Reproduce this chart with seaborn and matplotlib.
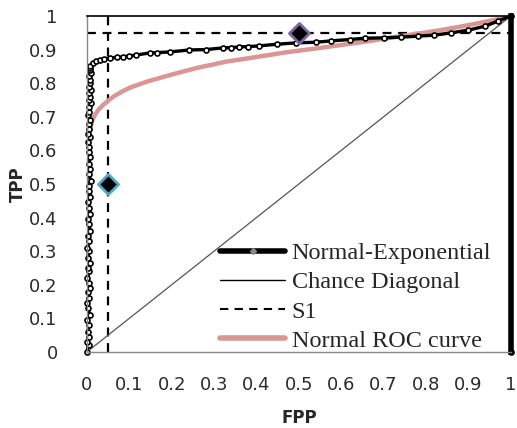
import numpy as np
import pandas as pd
import matplotlib
matplotlib.use("Agg")
import matplotlib.pyplot as plt
import seaborn as sns
from matplotlib.lines import Line2D

sns.set_style("white")
plt.rcParams['font.family'] = ['DejaVu Sans']

ne_fpp = [0.000, 0.004, 0.001, 0.006, 0.002, 0.005, 0.001, 0.007, 0.003, 0.000,
          0.006, 0.002, 0.008, 0.004, 0.001, 0.006, 0.003, 0.007, 0.002, 0.005,
          0.001, 0.006, 0.003, 0.008, 0.004, 0.002, 0.007, 0.005, 0.003, 0.008,
          0.006, 0.004, 0.009, 0.005, 0.007, 0.004, 0.008, 0.006, 0.005, 0.003,
          0.007, 0.002, 0.006, 0.004, 0.008, 0.003, 0.006, 0.005, 0.009, 0.004,
          0.007, 0.006, 0.009, 0.005, 0.008, 0.007, 0.006, 0.009, 0.008, 0.007,
          0.008, 0.014, 0.022, 0.030, 0.040, 0.054, 0.070, 0.085, 0.100, 0.117,
          0.148, 0.165, 0.195, 0.242, 0.280, 0.320, 0.340, 0.360, 0.380, 0.406,
          0.448, 0.493, 0.540, 0.577, 0.620, 0.657, 0.700, 0.740, 0.780, 0.820,
          0.860, 0.900, 0.940, 0.970, 1.000, 1.000]
ne_tpp = [0.000, 0.020, 0.030, 0.045, 0.060, 0.080, 0.095, 0.110, 0.130, 0.145,
          0.160, 0.180, 0.190, 0.205, 0.220, 0.240, 0.250, 0.265, 0.280, 0.300,
          0.310, 0.330, 0.345, 0.360, 0.380, 0.395, 0.410, 0.430, 0.445, 0.460,
          0.480, 0.495, 0.510, 0.530, 0.545, 0.560, 0.580, 0.595, 0.610, 0.625,
          0.640, 0.650, 0.665, 0.680, 0.690, 0.705, 0.715, 0.730, 0.740, 0.750,
          0.760, 0.770, 0.780, 0.790, 0.800, 0.810, 0.820, 0.830, 0.840, 0.845,
          0.852, 0.860, 0.865, 0.869, 0.872, 0.875, 0.877, 0.878, 0.881, 0.884,
          0.890, 0.891, 0.893, 0.899, 0.900, 0.905, 0.906, 0.908, 0.909, 0.911,
          0.916, 0.920, 0.922, 0.926, 0.930, 0.934, 0.935, 0.937, 0.940, 0.943,
          0.950, 0.958, 0.970, 0.985, 1.000, 0.000]

# Binormal ROC curve
roc_fpp = [0.002, 0.002, 0.003, 0.004, 0.006, 0.009, 0.013, 0.020, 0.028, 0.038,
           0.050, 0.065, 0.080, 0.100, 0.140, 0.195, 0.258, 0.328, 0.400, 0.470,
           0.550, 0.664, 0.740, 0.820, 0.880, 0.940, 1.000]
roc_tpp = [0.000, 0.300, 0.500, 0.590, 0.640, 0.670, 0.690, 0.708, 0.722, 0.735,
           0.748, 0.762, 0.773, 0.786, 0.804, 0.824, 0.845, 0.864, 0.878, 0.892,
           0.905, 0.925, 0.940, 0.955, 0.968, 0.983, 0.998]

chance = [0.0, 1.0]
s1_fpp = 0.05
s1_tpp = 0.95

# the two highlighted operating points
pt_fpp = [0.05, 0.5]
pt_tpp = [0.5, 0.95]
pt_edge = ['#4BACC6', '#8064A2']

PINK = '#D99694'

fig = plt.figure(figsize=(5.17, 4.28), dpi=100)
ax = fig.add_axes([0.168, 0.1776, 0.820, 0.785])

# S1 criterion lines
ax.axvline(s1_fpp, color='black', linestyle=(0, (4, 3)), linewidth=1.6)
ax.axhline(s1_tpp, color='black', linestyle=(0, (4, 3)), linewidth=1.6)

# chance diagonal
sns.lineplot(x=chance, y=chance, ax=ax, color='#555555', linewidth=0.9)

# normal ROC curve
sns.lineplot(x=roc_fpp, y=roc_tpp, ax=ax, sort=False, estimator=None,
             color=PINK, linewidth=3.2)

# normal-exponential points
sns.lineplot(x=ne_fpp, y=ne_tpp, ax=ax, sort=False, estimator=None,
             color='black', linewidth=2.4, marker='o', markersize=3.6,
             markerfacecolor='white', markeredgecolor='black', markeredgewidth=1.2,
             clip_on=False)

# diamonds
for fx, ty, ec in zip(pt_fpp, pt_tpp, pt_edge):
    ax.scatter([fx], [ty], marker='D', s=105, color='black', edgecolors=ec,
               linewidths=2, zorder=5, clip_on=False)

ax.set_xlim(0, 1)
ax.set_ylim(0, 1)
ax.set_xticks(np.arange(0, 1.01, 0.1))
ax.set_yticks(np.arange(0, 1.01, 0.1))
ax.set_xticklabels(['0'] + [f'{v:.1f}' for v in np.arange(0.1, 0.95, 0.1)] + ['1'])
ax.set_yticklabels(['0'] + [f'{v:.1f}' for v in np.arange(0.1, 0.95, 0.1)] + ['1'])
ax.tick_params(length=0, labelsize=13, labelcolor='#2b2b2b')
ax.tick_params(axis='x', pad=17)
ax.tick_params(axis='y', pad=21)

ax.set_xlabel('FPP', fontsize=12, fontweight='bold', labelpad=11)
ax.set_ylabel('TPP', fontsize=12, fontweight='bold', labelpad=2)

for side in ['left', 'bottom']:
    ax.spines[side].set_color('#888888')
    ax.spines[side].set_linewidth(1.0)
ax.spines['top'].set_color('black')
ax.spines['top'].set_linewidth(1.2)
ax.spines['right'].set_color('black')
ax.spines['right'].set_linewidth(4)

handles = [
    Line2D([], [], color='black', linewidth=4, marker='D', markersize=3,
           markerfacecolor='#888888', markeredgecolor='#888888'),
    Line2D([], [], color='black', linewidth=1),
    Line2D([], [], color='black', linewidth=1.5, linestyle=(0, (4, 3))),
    Line2D([], [], color=PINK, linewidth=4),
]
labels = ['Normal-Exponential', 'Chance Diagonal', 'S1', 'Normal ROC curve']
ax.legend(handles, labels, loc='lower right', bbox_to_anchor=(1.005, -0.065),
          frameon=False, handlelength=2.7, handletextpad=0.25, labelspacing=0.3,
          prop={'family': 'Liberation Serif', 'size': 17.5})

fig.savefig('out.png', dpi=100)
